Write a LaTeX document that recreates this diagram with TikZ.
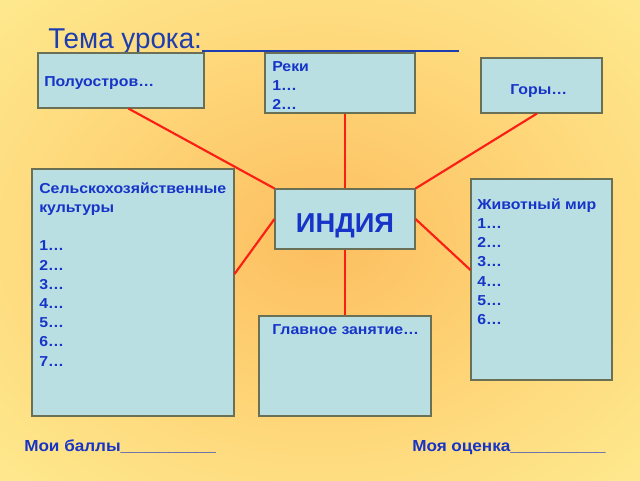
\documentclass[tikz,border=0pt]{standalone}
\usepackage{fontspec}
\setmainfont{Liberation Sans}
\newfontfamily\widefont[FakeStretch=1.07]{Liberation Sans}
\newfontfamily\boxfont[FakeStretch=1.1]{Liberation Sans}
\newfontfamily\titlefont[FakeStretch=0.97]{Liberation Sans}
\usetikzlibrary{fit}
\definecolor{cin}{RGB}{252,190,95}
\definecolor{cmid}{RGB}{254,218,125}
\definecolor{cout}{RGB}{255,248,160}
\definecolor{boxfill}{RGB}{186,223,227}
\definecolor{boxline}{RGB}{105,112,85}
\definecolor{txtblue}{RGB}{22,52,200}
\definecolor{ttlblue}{RGB}{30,62,175}
\definecolor{linkred}{RGB}{250,30,20}
\newcommand\fl{\rule{0pt}{10pt}}
\pgfdeclareradialshading{bgshade}{\pgfpoint{0bp}{0bp}}{color(0bp)=(cin); color(22bp)=(cmid); color(50bp)=(cout); color(100bp)=(cout)}
\begin{document}
\begin{tikzpicture}[x=0.75pt,y=-0.75pt,
  box/.style={draw=boxline,line width=0.8pt,fill=boxfill,inner sep=0pt},
  link/.style={draw=linkred,line width=1.6pt},
  bt/.style={text=txtblue,font=\boxfont\bfseries\fontsize{10.8}{14.4}\selectfont,inner sep=0pt,anchor=north west,yshift=10pt,align=left}]
\useasboundingbox (0,0) rectangle (640,480);
\shade[shading=bgshade] (0,0) rectangle (640,480);
% title
\node[text=ttlblue,font=\titlefont\fontsize{21.5}{26}\selectfont,inner sep=0pt,anchor=base west] (title) at (48,48) {Тема урока:};
\draw[ttlblue,line width=1.3pt] (title.base east) ++(0,3) coordinate (ul1) -- (459,51) coordinate (ul2);
% boxes
\node[box,fit={(38,53)(204,108)}] (pol) {};
\node[box,fit={(265,53)(415,113)}] (reki) {};
\node[box,fit={(481,58)(602,113)}] (gory) {};
\node[box,fit={(32,169)(234,416)}] (selh) {};
\node[box,fit={(275,189)(415,249)}] (india) {};
\node[box,fit={(471,179)(612,380)}] (zhiv) {};
\node[box,fit={(259,316)(431,416)}] (glav) {};
\node[text=txtblue,font=\bfseries\fontsize{20.5}{24}\selectfont,inner sep=0pt,anchor=base] (tindia) at (india.center |- 0,232) {ИНДИЯ};
% connectors
\draw[link] ([xshift=5.6pt]pol.south) -- (india.north west);
\draw[link] (reki.south -| india.north) -- (india.north);
\draw[link] ([xshift=-3.4pt]gory.south) -- (india.north east);
\draw[link] (india.west) -- (selh.east |- 0,274);
\draw[link] (india.east) -- (zhiv.west |- 0,270);
\draw[link] (india.south) -- (glav.north -| india.south);
% texts
\node[bt] (tpol) at (44,86) {\fl Полуостров…};
\node[bt] (treki) at (272,71) {\fl Реки\\1…\\2…};
\node[bt] (tgory) at (510,94) {\fl Горы…};
\node[bt] (tselh) at (39,193) {\fl Сельскохозяйственные\\культуры\\[14.4pt]1…\\2…\\3…\\4…\\5…\\6…\\7…};
\node[bt] (tzhiv) at (477,209) {\fl Животный мир\\1…\\2…\\3…\\4…\\5…\\6…};
\node[bt] (tglav) at (272,334) {\fl Главное занятие…};
\node[text=txtblue,font=\widefont\bfseries\fontsize{12}{14}\selectfont,inner sep=0pt,anchor=base west] (balls) at (24,451) {Мои баллы\_\_\_\_\_\_\_\_\_\_};
\node[text=txtblue,font=\widefont\bfseries\fontsize{12}{14}\selectfont,inner sep=0pt,anchor=base west] (grade) at (412,451) {Моя оценка\_\_\_\_\_\_\_\_\_\_};
\end{tikzpicture}
\end{document}
